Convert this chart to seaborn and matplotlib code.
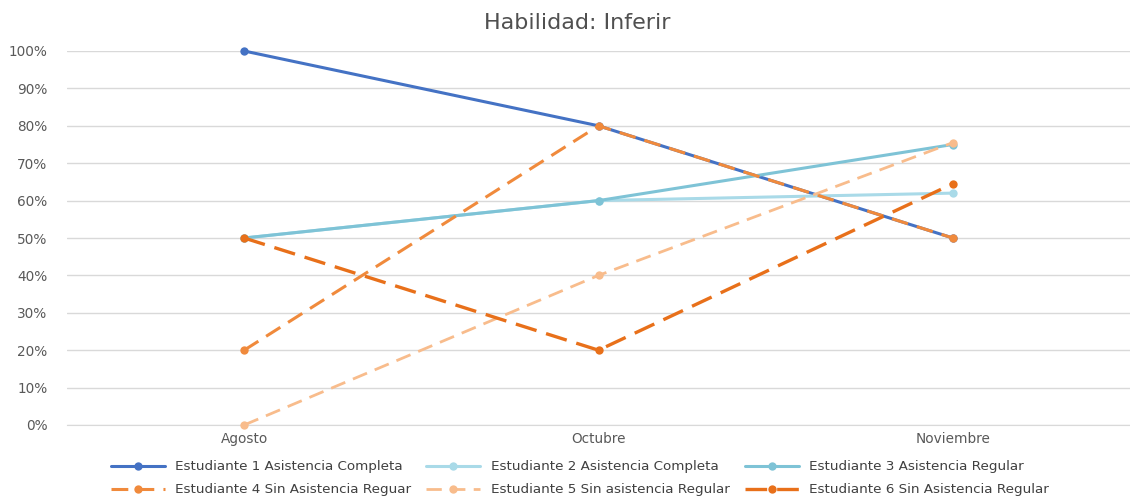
import pandas as pd
import matplotlib
matplotlib.use("Agg")
import matplotlib.pyplot as plt
import seaborn as sns

# data
meses = ["Agosto", "Octubre", "Noviembre"]
estudiantes = [
    "Estudiante 1 Asistencia Completa",
    "Estudiante 2 Asistencia Completa",
    "Estudiante 3 Asistencia Regular",
    "Estudiante 4 Sin Asistencia Reguar",
    "Estudiante 5 Sin asistencia Regular",
    "Estudiante 6 Sin Asistencia Regular",
]
est1 = [1.00, 0.80, 0.50]
est2 = [0.50, 0.60, 0.62]
est3 = [0.50, 0.60, 0.75]
est4 = [0.20, 0.80, 0.50]
est5 = [0.00, 0.40, 0.755]
est6 = [0.50, 0.20, 0.645]

colores = ["#4472C4", "#A9DAE8", "#7EC3D6", "#F08A3C", "#F8BC8C", "#E8701A"]
trazos = ["", "", "", (5.5, 3), (5.5, 3), (6.5, 3)]
grosores = [2.2, 2.2, 2.2, 2.2, 2.0, 2.4]

df = pd.DataFrame({
    "mes": meses * 6,
    "valor": est1 + est2 + est3 + est4 + est5 + est6,
    "estudiante": [e for e in estudiantes for _ in meses],
})

sns.set_style("white")
plt.rcParams["font.family"] = ["DejaVu Sans"]

fig = plt.figure(figsize=(11.3, 4.97), dpi=100)
ax = fig.add_axes([67 / 1130, 1 - 425 / 497, 1 - 67 / 1130, 374 / 497])

for i, est in enumerate(estudiantes):
    sub = df[df["estudiante"] == est]
    sns.lineplot(data=sub, x="mes", y="valor", ax=ax, color=colores[i],
                 linewidth=grosores[i], marker="o", markersize=6,
                 markeredgewidth=0, label=est, sort=False, clip_on=False,
                 zorder=3 + i)
    if trazos[i]:
        ax.lines[-1].set_dashes(trazos[i])

ax.set_xlim(-0.5, 2.5)
ax.set_ylim(0, 1)
ax.set_yticks([i / 10 for i in range(11)])
ax.set_yticklabels([f"{i * 10}%" for i in range(11)])
ax.yaxis.grid(True, color="#D9D9D9", linewidth=1)
ax.set_axisbelow(True)
for s in ax.spines.values():
    s.set_visible(False)
ax.spines["bottom"].set_visible(True)
ax.spines["bottom"].set_color("#D9D9D9")
ax.tick_params(axis="both", length=0, labelsize=9.8, colors="#595959", pad=5)
ax.tick_params(axis="y", pad=14)
ax.set_xlabel("")
ax.set_ylabel("")
ax.set_title("Habilidad: Inferir", fontsize=16, color="#505050",
             x=(577 - 67) / 1063, pad=16)

handles, labels = ax.get_legend_handles_labels()
orden = [0, 3, 1, 4, 2, 5]
ax.legend([handles[k] for k in orden], [labels[k] for k in orden],
          ncol=3, loc="upper center", bbox_to_anchor=((580 - 67) / 1063, -0.062),
          frameon=False, fontsize=9.7, handlelength=4.0, columnspacing=1.1,
          labelspacing=0.75, handletextpad=0.8, labelcolor="#404040")

fig.savefig("out.png", dpi=100)
